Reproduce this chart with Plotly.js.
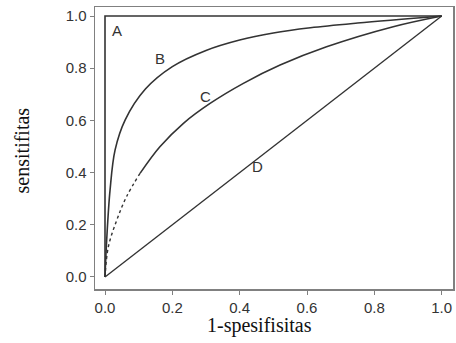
<!DOCTYPE html>
<html>
<head>
<meta charset="utf-8">
<script src="https://cdn.plot.ly/plotly-3.0.1.min.js"></script>
<style>html,body{margin:0;padding:0;background:#fff;}#chart{width:456px;height:343px;}</style>
</head>
<body>
<div id="chart"></div>
<script>
// Curve A (perfect test)
var aX = [0, 0, 1];
var aY = [0, 1, 1];
// Curve B
var bX = [0, 0.005, 0.015, 0.03, 0.06, 0.12, 0.2, 0.3, 0.4, 0.5, 0.61, 0.75, 1];
var bY = [0, 0.142, 0.333, 0.487, 0.602, 0.72, 0.806, 0.868, 0.908, 0.935, 0.955, 0.973, 1];
// Curve C (lower dotted part, upper solid part)
var cLowX = [0, 0.01, 0.035, 0.064, 0.104];
var cLowY = [0, 0.116, 0.218, 0.308, 0.397];
var cX = [0.104, 0.163, 0.233, 0.312, 0.411, 0.52, 0.658, 0.856, 1];
var cY = [0.397, 0.499, 0.589, 0.665, 0.742, 0.812, 0.882, 0.959, 1];
// Curve D (chance line)
var dX = [0, 1];
var dY = [0, 1];
// Curve labels
var labelText = ["A", "B", "C", "D"];
var labelX = [0.036, 0.163, 0.297, 0.454];
var labelY = [0.943, 0.839, 0.693, 0.425];
var tickVals = [0, 0.2, 0.4, 0.6, 0.8, 1.0];
var xTitle = "1-spesifisitas";
var yTitle = "sensitifitas";

var lineCol = "#333333";
function tr(x, y, dash, shape, width) {
  return {x: x, y: y, type: "scatter", mode: "lines", hoverinfo: "skip",
          line: {color: lineCol, width: width || 1.6, dash: dash || "solid", shape: shape || "spline", smoothing: 1}};
}
var data = [
  tr(aX, aY, "solid", "linear"),
  tr(bX, bY),
  tr(cLowX, cLowY, "dot", "spline", 1.4),
  tr(cX, cY),
  tr(dX, dY, "solid", "linear", 1.4)
];

var annotations = labelText.map(function (t, i) {
  return {x: labelX[i], y: labelY[i], xref: "x", yref: "y", text: t, showarrow: false,
          font: {family: "Liberation Sans, Arial, sans-serif", size: 15, color: "#333"}};
});
annotations.push({x: (259 - 95) / 358, y: -0.128, xref: "paper", yref: "paper", xanchor: "center", yanchor: "middle",
  text: xTitle, showarrow: false, font: {family: "Liberation Serif, Times New Roman, serif", size: 20, color: "#111"}});
annotations.push({x: -0.205, y: 0.49, xref: "paper", yref: "paper", xanchor: "center", yanchor: "middle",
  text: yTitle, textangle: -90, showarrow: false, font: {family: "Liberation Serif, Times New Roman, serif", size: 20, color: "#111"}});

var axisCommon = {
  showgrid: false, zeroline: false, showline: true, mirror: true,
  linecolor: "#808080", linewidth: 1.5,
  ticks: "outside", ticklen: 4, tickwidth: 1, tickcolor: "#808080",
  tickvals: tickVals, tickformat: ".1f",
  tickfont: {family: "Liberation Sans, Arial, sans-serif", size: 15, color: "#333"}
};
var layout = {
  width: 456, height: 343,
  margin: {l: 95, r: 3, t: 7, b: 54},
  paper_bgcolor: "#fff", plot_bgcolor: "#fff",
  showlegend: false,
  xaxis: Object.assign({}, axisCommon, {range: [-0.0297, 1.0336]}),
  yaxis: Object.assign({}, axisCommon, {range: [-0.046, 1.0345]}),
  annotations: annotations
};
Plotly.newPlot("chart", data, layout, {staticPlot: true, displayModeBar: false});
</script>
</body>
</html>
